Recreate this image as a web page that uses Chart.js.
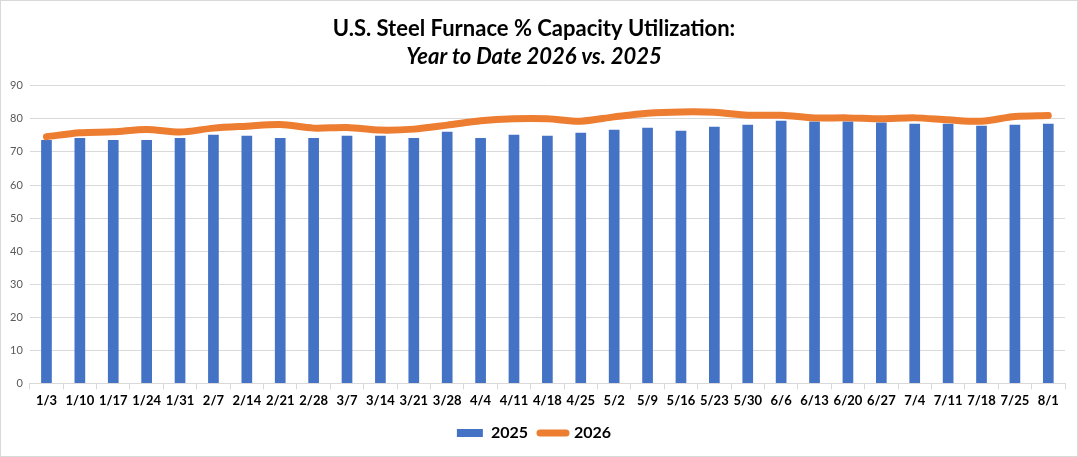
<!DOCTYPE html>
<html>
<head>
<meta charset="utf-8">
<script src="https://cdn.jsdelivr.net/npm/chart.js@4/dist/chart.umd.min.js"></script>
<style>
  body { margin: 0; background: #fff; }
  #wrap { width: 1078px; height: 457px; border: 1px solid #d9d9d9; box-sizing: border-box; }
  canvas { display: block; }
</style>
</head>
<body>
<div id="wrap"><canvas id="grafico" width="1076" height="455"></canvas></div>
<script>
// semanas (eje X)
const semanas = ['1/3','1/10','1/17','1/24','1/31','2/7','2/14','2/21','2/28','3/7','3/14','3/21','3/28',
  '4/4','4/11','4/18','4/25','5/2','5/9','5/16','5/23','5/30','6/6','6/13','6/20','6/27',
  '7/4','7/11','7/18','7/25','8/1'];

// % capacidad 2025 (barras)
const util2025 = [73.6, 74.2, 73.6, 73.6, 74.2, 75.2, 74.9, 74.2, 74.2, 74.9, 74.9, 74.2, 76.1,
  74.2, 75.2, 74.9, 75.8, 76.7, 77.3, 76.4, 77.6, 78.2, 79.4, 79.2, 79.2, 78.9,
  78.5, 78.5, 77.9, 78.2, 78.5];

// % capacidad 2026 (linea)
const util2026 = [74.6, 75.8, 76.1, 76.8, 76.0, 77.2, 77.8, 78.3, 77.2, 77.4, 76.6, 76.9, 78.1,
  79.4, 80.0, 80.0, 79.3, 80.6, 81.7, 82.1, 82.0, 81.1, 81.1, 80.3, 80.3, 80.0,
  80.3, 79.7, 79.3, 80.7, 81.0];

const yTicks = [0, 10, 20, 30, 40, 50, 60, 70, 80, 90];

const azul = '#4472C4';
const naranja = '#ED7D31';
const fuente = 'Lato, Calibri, "Open Sans", sans-serif';

var ctx = document.getElementById('grafico').getContext('2d');
new Chart(ctx, {
    type: 'bar',
    data: {
        labels: semanas,
        datasets: [
            {
                type: 'line',
                label: '2026',
                data: util2026,
                borderColor: naranja,
                backgroundColor: naranja,
                borderWidth: 7,
                borderCapStyle: 'round',
                borderJoinStyle: 'round',
                pointRadius: 0,
                tension: 0.3,
                order: 0,
            },
            {
                label: '2025',
                data: util2025,
                backgroundColor: azul,
                barPercentage: 0.32,
                categoryPercentage: 1,
                order: 1,
            },
        ]
    },
    options: {
        responsive: false,
        animation: false,
        devicePixelRatio: 1,
        layout: { padding: { left: 2, right: 12, top: 8, bottom: 5 } },
        scales: {
            x: {
                grid: {
                    offset: true,
                    drawOnChartArea: false,
                    color: '#d9d9d9',
                    tickLength: 6,
                },
                border: { color: '#d9d9d9' },
                ticks: {
                    color: '#000',
                    font: { family: fuente, size: 13, weight: 'bold' },
                    maxRotation: 0,
                    autoSkip: false,
                    padding: 4,
                },
            },
            y: {
                min: 0,
                max: 90,
                afterBuildTicks: (axis) => { axis.ticks = yTicks.map(v => ({ value: v })); },
                grid: { color: '#d9d9d9', drawTicks: false },
                border: { display: false },
                ticks: {
                    color: '#595959',
                    font: { family: fuente, size: 11 },
                    padding: 7,
                },
            },
        },
        plugins: {
            title: {
                display: true,
                text: 'U.S. Steel Furnace % Capacity Utilization:',
                color: '#000',
                font: { family: fuente, size: 22, weight: 'bold' },
                padding: { top: 7, bottom: 1 },
            },
            subtitle: {
                display: true,
                text: 'Year to Date 2026 vs. 2025',
                color: '#000',
                font: { family: fuente, size: 22, weight: 'bold', style: 'italic' },
                padding: { bottom: 16 },
            },
            legend: {
                position: 'bottom',
                labels: {
                    usePointStyle: true,
                    pointStyleWidth: 26,
                    boxHeight: 8,
                    padding: 12,
                    color: '#000',
                    font: { family: fuente, size: 16, weight: 'bold' },
                    generateLabels: () => [
                        { text: '2025', pointStyle: 'rect', fillStyle: azul, strokeStyle: azul, lineWidth: 0, datasetIndex: 1 },
                        { text: '2026', pointStyle: 'line', fillStyle: naranja, strokeStyle: naranja, lineWidth: 7, lineCap: 'round', datasetIndex: 0 },
                    ],
                },
            },
            tooltip: { enabled: false },
        },
    },
});
</script>
</body>
</html>
